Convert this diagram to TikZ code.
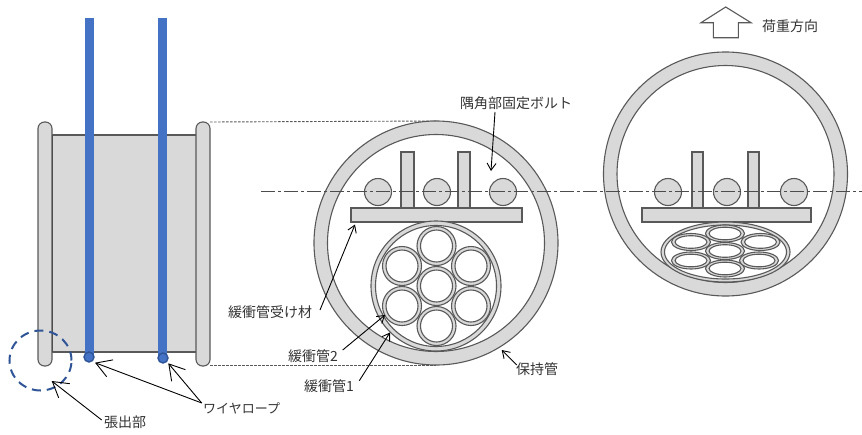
\documentclass[tikz,border=0pt]{standalone}
\usepackage{fontspec}
\setmainfont{Noto Sans CJK JP}
\usetikzlibrary{arrows.meta}
\definecolor{partfill}{HTML}{D9D9D9}
\definecolor{partline}{HTML}{595959}
\definecolor{ropeblue}{HTML}{4472C4}
\definecolor{ropedark}{HTML}{2F5597}
\tikzset{
  part/.style={draw=partline, fill=partfill, line width=1.1pt},
  tube/.style={draw=partline, fill=white, line width=1.1pt},
  rope/.style={fill=ropeblue, draw=none},
  lead/.style={line width=0.9pt, -{Straight Barb[length=7pt,width=9pt]}},
  biglead/.style={line width=0.9pt, -{Straight Barb[length=15pt,width=18pt]}},
  label/.style={inner sep=0pt, font=\fontsize{14}{14}\selectfont, text=black!80},
  guide/.style={draw=partline, line width=0.9pt, dash pattern=on 2.5pt off 1.5pt}
}
\begin{document}
\begin{tikzpicture}[x=1pt, y=-1pt]
  \useasboundingbox (0,0) rectangle (862,434);

  \fill[partfill] (52,135) rectangle (196,352);
  \draw[partline, line width=1.1pt] (52,135) -- (196,135) (52,352) -- (196,352);
  \draw[black!85, line width=1.3pt] (52,135) -- (52,352);
  \draw[part, rounded corners=6.5pt] (38,122) rectangle (52,366);
  \draw[part, rounded corners=6.5pt] (196,122) rectangle (210,366);
  \fill[rope] (85,18) rectangle (94,357);
  \fill[rope] (158,18) rectangle (167,358);
  \draw[fill=ropeblue, draw=ropedark, line width=1.4pt] (89,357) circle (5pt);
  \draw[fill=ropeblue, draw=ropedark, line width=1.4pt] (163,358) circle (5pt);
  \draw[ropedark, line width=2pt, dash pattern=on 9pt off 6pt] (40.5,360.5) circle (31pt and 30pt);

  \coordinate (flange-t) at (210,122);
  \coordinate (flange-b) at (210,365);
  \coordinate (ring-t) at (436,121);
  \coordinate (ring-b) at (436,365);
  \path[guide] (flange-t) edge (ring-t) (flange-b) edge (ring-b);

  \draw[part, even odd rule] (436,243) circle (122pt) (436,243) circle (108.5pt);
  \draw[part] (401,152) rectangle (414,208);
  \draw[part] (458,152) rectangle (470,208);
  \foreach \x in {378,437,503}
    \draw[part] (\x,192) circle (13.5pt);
  \draw[part] (351,208) rectangle (522,222);
  \draw[part] (436,286) circle (65pt);
  \draw[tube] (436,286) circle (60.5pt);
  \foreach \x/\y in {436.5/246, 436.5/286, 436.5/326, 402/266, 402/306, 471/266, 471/306} {
    \draw[part] (\x,\y) circle (19.5pt);
    \draw[tube] (\x,\y) circle (16pt);
  }

  \draw[part, even odd rule] (725.5,174) circle (122pt) (725.5,174) circle (108.5pt);
  \draw[part] (692,152) rectangle (703,208);
  \draw[part] (748,152) rectangle (759,208);
  \foreach \x in {668,727,794}
    \draw[part] (\x,192) circle (13.5pt);
  \draw[part] (642,208) rectangle (811,222);
  \draw[part] (725.5,252) ellipse (64.5pt and 30pt);
  \draw[tube] (725.5,252) ellipse (61pt and 27pt);
  \foreach \x/\y in {725/233.5, 725/251, 725/268.5, 691/242, 691/260.5, 760.5/242, 759/260.5} {
    \draw[part] (\x,\y) ellipse (19.5pt and 8.5pt);
    \draw[tube] (\x,\y) ellipse (16pt and 6.3pt);
  }

  \coordinate (axis-l) at (261,191.5);
  \coordinate (axis-r) at (862,191.5);
  \draw[black!70, line width=0.9pt, dash pattern=on 14pt off 3pt on 3pt off 3pt] (axis-l) -- (axis-r);

  \draw[partline, line width=1.1pt] (725.7,7) -- (751,22.7) -- (738.3,22.7) -- (738.3,37.7)
    -- (713.3,37.7) -- (713.3,22.7) -- (701,22.7) -- cycle;

  \node[label, anchor=west] (load) at (762,26) {荷重方向};
  \node[label, anchor=west] (bolt) at (460,103) {隅角部固定ボルト};
  \node[label, anchor=west] (seat) at (228,312.5) {緩衝管受け材};
  \node[label, anchor=west] (cush2) at (288,356) {緩衝管2};
  \node[label, anchor=west] (cush1) at (304,386) {緩衝管1};
  \node[label, anchor=west] (hold) at (516,369) {保持管};
  \node[label, anchor=west] (bulge) at (104,422) {張出部};
  \node[label, anchor=west, font=\fontsize{13}{13}\selectfont] (wire) at (203,408) {ワイヤロープ};

  \coordinate (bolt-from) at (495,112);
  \coordinate (seat-from) at (320,310);
  \coordinate (cush2-from) at (342.7,350);
  \coordinate (cush1-from) at (359.3,380.7);
  \coordinate (hold-from) at (516.7,365);
  \coordinate (bulge-from) at (101.7,420);
  \coordinate (wire-from) at (201.7,403);
  \coordinate (bolt-tip) at (491,171);
  \coordinate (seat-tip) at (355,224.5);
  \coordinate (cush2-tip) at (385,315);
  \coordinate (cush1-tip) at (390,332.5);
  \coordinate (hold-tip) at (501.7,350);
  \coordinate (bulge-tip) at (51.7,381);
  \coordinate (rope1-tip) at (95,362.7);
  \coordinate (rope2-tip) at (168.3,363.3);

  \path[lead]
  (bolt-from) edge (bolt-tip)
  (seat-from) edge (seat-tip)
  (cush2-from) edge (cush2-tip)
  (cush1-from) edge (cush1-tip)
  (hold-from) edge (hold-tip)
  ;
  \path[biglead]
  (bulge-from) edge (bulge-tip)
  (wire-from) edge (rope1-tip)
          edge (rope2-tip)
  ;
\end{tikzpicture}
\end{document}
